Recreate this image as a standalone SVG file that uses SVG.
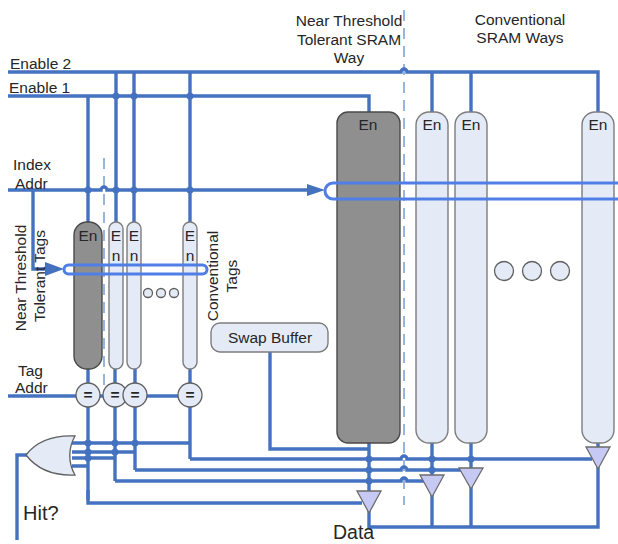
<svg xmlns="http://www.w3.org/2000/svg" width="618" height="544" viewBox="0 0 618 544">
<style>
text{font-family:"Liberation Sans",Arial,sans-serif;font-size:15.5px;fill:#262626}
.m{text-anchor:middle}
.w{fill:none;stroke:#4472c0;stroke-width:3.4}
.d{fill:none;stroke:#7fa3d6;stroke-width:1.6;stroke-dasharray:11 7}
.l{fill:#e4eaf6;stroke:#7d7d7d;stroke-width:1.4}
.g{fill:#8f8f8f;stroke:#4a4a4a;stroke-width:1.4}
.r{fill:none;stroke:#4f7fe6;stroke-width:3}
.t{fill:#c6c9f3;stroke:#6b6b6b;stroke-width:1.3}
.j{fill:#4472c0}
.c{fill:#e4eaf6;stroke:#5f5f5f;stroke-width:1.3}
</style>
<rect width="618" height="544" fill="#fff"/>
<g id="connectors">
<path class="d" d="M404 10V505M104 158V385"/>
<path class="w" d="M8 72H401a3 3 0 0 1 6 0H598V112M432 72V112M471 72V112"/>
<path class="w" d="M8 96H369V112"/>
<path class="w" d="M88 96V222M116 72V222M134 72V222M190 72V222"/>
<path class="w" d="M8 190H101a3 3 0 0 1 6 0H312"/>
<path class="w" d="M33 190V269H50"/>
<path class="w" d="M8 396H178"/>
<path class="w" d="M88 369V500M115 369V481M135 369V470M190 369V459M72 443H190M72 452H135M72 458H115M72 466H88"/>
<path class="w" d="M17 540V455H28"/>
<path class="w" d="M190 459H401a3 3 0 0 1 6 0H592M135 470H401a3 3 0 0 1 6 0H462M115 481H401a3 3 0 0 1 6 0H425M88 490V503H362"/>
<path class="w" d="M270 351V449H369M369 438V495M432 438V480M471 438V472M598 438V450"/>
<path class="w" d="M369 510V527H598V465M432 495V527M471 487V527"/>
<g class="j">
<circle cx="116" cy="96" r="3.5"/><circle cx="134" cy="96" r="3.5"/><circle cx="190" cy="96" r="3.5"/>
<circle cx="88" cy="190" r="3.5"/><circle cx="116" cy="190" r="3.5"/><circle cx="134" cy="190" r="3.5"/><circle cx="190" cy="190" r="3.5"/>
<circle cx="88" cy="443" r="3.5"/><circle cx="88" cy="452" r="3.5"/><circle cx="88" cy="458" r="3.5"/><circle cx="115" cy="443" r="3.5"/><circle cx="115" cy="452" r="3.5"/><circle cx="135" cy="443" r="3.5"/>
<circle cx="369" cy="459" r="3.5"/><circle cx="369" cy="470" r="3.5"/><circle cx="369" cy="481" r="3.5"/><circle cx="432" cy="459" r="3.5"/><circle cx="432" cy="470" r="3.5"/><circle cx="471" cy="459" r="3.5"/>
<path d="M45 262L64 269L45 276Z"/>
<path d="M307 184L325 190L307 196Z"/>
</g>
</g>
<g id="tag-near"><rect class="g" x="74" y="222" width="28" height="147" rx="13"/><text class="m" x="88" y="241">En</text></g>
<g id="tag-1"><rect class="l" x="109" y="222" width="14" height="147" rx="7"/><text class="m" x="116" y="241">E</text><text class="m" x="116" y="261">n</text></g>
<g id="tag-2"><rect class="l" x="127" y="222" width="14" height="147" rx="7"/><text class="m" x="134" y="241">E</text><text class="m" x="134" y="261">n</text></g>
<g id="tag-n"><rect class="l" x="183" y="222" width="14" height="147" rx="7"/><text class="m" x="190" y="241">E</text><text class="m" x="190" y="261">n</text></g>
<g id="tag-row"><rect class="r" x="64" y="265" width="143" height="9" rx="4.5"/></g>
<g id="tag-dots"><circle class="c" cx="148" cy="293" r="4.5"/><circle class="c" cx="161" cy="293" r="4.5"/><circle class="c" cx="174" cy="293" r="4.5"/></g>
<g id="way-near"><rect class="g" x="337" y="112" width="63" height="331" rx="11"/><text class="m" x="368" y="130">En</text></g>
<g id="way-1"><rect class="l" x="416" y="112" width="32" height="331" rx="13"/><text class="m" x="432" y="130">En</text></g>
<g id="way-2"><rect class="l" x="455" y="112" width="32" height="331" rx="13"/><text class="m" x="471" y="130">En</text></g>
<g id="way-n"><rect class="l" x="582" y="112" width="32" height="331" rx="13"/><text class="m" x="598" y="130">En</text></g>
<g id="way-row"><path class="r" d="M618 183H333a8 8 0 0 0 0 16H618"/></g>
<g id="way-dots"><circle class="c" cx="504" cy="271" r="9.5"/><circle class="c" cx="532" cy="271" r="9.5"/><circle class="c" cx="560" cy="271" r="9.5"/></g>
<g id="swap-buffer"><rect class="l" x="211" y="323" width="117" height="29" rx="9"/><text class="m" x="270" y="343">Swap Buffer</text></g>
<g id="cmp-1"><circle class="c" cx="88" cy="395" r="12"/><text class="m" x="88" y="400" font-weight="bold">=</text></g>
<g id="cmp-2"><circle class="c" cx="115" cy="395" r="12"/><text class="m" x="115" y="400" font-weight="bold">=</text></g>
<g id="cmp-3"><circle class="c" cx="135" cy="395" r="12"/><text class="m" x="135" y="400" font-weight="bold">=</text></g>
<g id="cmp-4"><circle class="c" cx="190" cy="395" r="12"/><text class="m" x="190" y="400" font-weight="bold">=</text></g>
<g id="or-gate"><path class="c" d="M26 455C36 442 52 435 75 436C68 448 68 463 75 475C52 476 36 468 26 455Z"/></g>
<g id="tri-1"><path class="t" d="M357 491H381L369 513Z"/></g>
<g id="tri-2"><path class="t" d="M420 475H444L432 497Z"/></g>
<g id="tri-3"><path class="t" d="M459 468H483L471 489Z"/></g>
<g id="tri-4"><path class="t" d="M586 447H610L598 469Z"/></g>
<g id="labels">
<text x="10" y="69">Enable 2</text>
<text x="9" y="93">Enable 1</text>
<text x="13" y="170">Index</text>
<text x="15" y="189">Addr</text>
<text x="18" y="376">Tag</text>
<text x="15" y="393">Addr</text>
<text x="23" y="520" style="font-size:20px">Hit?</text>
<text x="333" y="539" style="font-size:19.5px">Data</text>
<text class="m" x="349" y="26">Near Threshold</text>
<text class="m" x="349" y="45">Tolerant SRAM</text>
<text class="m" x="349" y="63">Way</text>
<text class="m" x="520" y="25">Conventional</text>
<text class="m" x="520" y="43">SRAM Ways</text>
<text class="m" transform="translate(26 278) rotate(-90)">Near Threshold</text>
<text class="m" transform="translate(45 276) rotate(-90)">Tolerant Tags</text>
<text class="m" transform="translate(218 276) rotate(-90)">Conventional</text>
<text class="m" transform="translate(237 276) rotate(-90)">Tags</text>
</g>
</svg>
